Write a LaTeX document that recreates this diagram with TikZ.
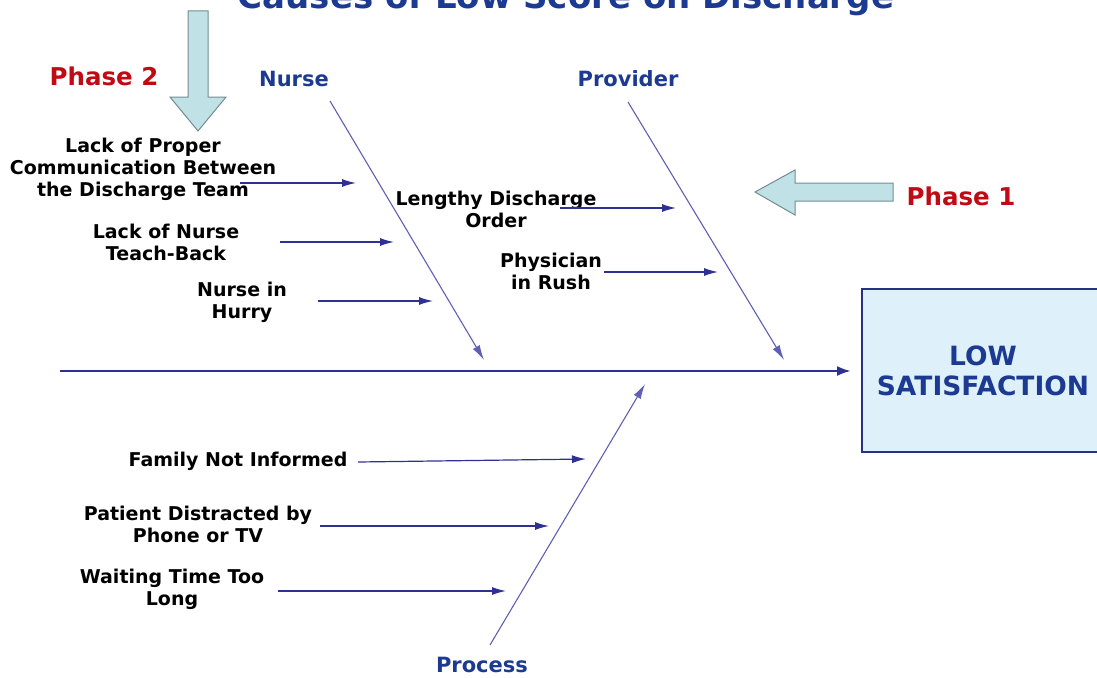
\documentclass[tikz,border=0pt]{standalone}
\usepackage{fontspec}
\setmainfont{DejaVu Sans}
\usetikzlibrary{arrows.meta}
\definecolor{lineblue}{RGB}{46,49,146}
\definecolor{boneblue}{RGB}{95,95,180}
\definecolor{catblue}{RGB}{28,58,145}
\definecolor{phasered}{RGB}{192,10,20}
\definecolor{arrowfill}{RGB}{192,226,230}
\definecolor{arrowedge}{RGB}{115,140,145}
\definecolor{boxfill}{RGB}{222,240,250}
\definecolor{boxedge}{RGB}{40,50,130}
\tikzset{
  causetext/.style={align=center, font=\fontsize{19}{22}\selectfont\bfseries, text=black, inner sep=0pt},
  cattext/.style={font=\fontsize{21}{24}\selectfont\bfseries, text=catblue, inner sep=0pt},
  phasetext/.style={font=\fontsize{24.5}{28}\selectfont\bfseries, text=phasered, inner sep=0pt},
  causearrow/.style={draw=lineblue, line width=1.2pt, -{Latex[length=14pt,width=8pt]}},
  bonearrow/.style={draw=boneblue, line width=1.1pt, -{Latex[length=15pt,width=8pt]}},
  spine/.style={draw=lineblue, line width=2.4pt, -{Latex[length=14pt,width=10pt]}},
  phasearrow/.style={draw=arrowedge, fill=arrowfill, line width=1pt, line join=miter},
}
\begin{document}
\begin{tikzpicture}[x=1pt,y=-1pt]
\useasboundingbox (0,0) rectangle (1097,677);
% title (clipped at top, as in the reference)
\node[anchor=base, font=\fontsize{34}{40}\selectfont\bfseries, text=catblue, inner sep=0pt] (title) at (566,9) {Causes of Low Score on Discharge};

% phase arrows
\draw[phasearrow] (188,11) -- (208,11) -- (208,97) -- (226,97) -- (198,131) -- (170,97) -- (188,97) -- cycle;
\draw[phasearrow] (893,183) -- (795,183) -- (795,170) -- (755,192) -- (795,215) -- (795,201) -- (893,201) -- cycle;
\node[phasetext] (ph2) at (104,76) {Phase 2};
\node[phasetext] (ph1) at (961,196) {Phase 1};

% categories
\node[cattext] (nurse) at (294,79) {Nurse};
\node[cattext] (provider) at (628,79) {Provider};
\node[cattext] (process) at (482,665) {Process};

% effect box
\draw[draw=boxedge, fill=boxfill, line width=1.3pt] (862,289) rectangle (1112,452);
\node[align=center, font=\fontsize{26.5}{30}\selectfont\bfseries, text=catblue, inner sep=0pt] (effect) at (983,371) {LOW\\SATISFACTION};

% spine and bones
\coordinate (spineS) at (60,371);
\coordinate (spineE) at (851,371);
\draw[spine] (spineS) -- (spineE);
\coordinate (nurseS) at (330,101);
\coordinate (nurseE) at (484,360);
\draw[bonearrow] (nurseS) -- (nurseE);
\coordinate (provS) at (628,102);
\coordinate (provE) at (784,360);
\draw[bonearrow] (provS) -- (provE);
\coordinate (procS) at (490,645);
\coordinate (procE) at (645,384);
\draw[bonearrow] (procS) -- (procE);

% causes
\node[causetext] (c1) at (143,169) {Lack of Proper\\Communication Between\\the Discharge Team};
\coordinate (c1s) at (240,183); \coordinate (c1e) at (356,183);
\draw[causearrow] (c1s) -- (c1e);

\node[causetext] (c2) at (166,242) {Lack of Nurse\\Teach-Back};
\coordinate (c2s) at (280,242); \coordinate (c2e) at (394,242);
\draw[causearrow] (c2s) -- (c2e);

\node[causetext] (c3) at (242,302) {Nurse in\\Hurry};
\coordinate (c3s) at (318,301); \coordinate (c3e) at (433,301);
\draw[causearrow] (c3s) -- (c3e);

\node[causetext] (c4) at (496,209) {Lengthy Discharge\\Order};
\coordinate (c4s) at (560,208); \coordinate (c4e) at (676,208);
\draw[causearrow] (c4s) -- (c4e);

\node[causetext] (c5) at (551,271) {Physician\\in Rush};
\coordinate (c5s) at (604,272); \coordinate (c5e) at (718,272);
\draw[causearrow] (c5s) -- (c5e);

\node[causetext] (c6) at (238,461) {Family Not Informed};
\coordinate (c6s) at (358,462); \coordinate (c6e) at (586,459);
\draw[causearrow] (c6s) -- (c6e);

\node[causetext] (c7) at (198,524) {Patient Distracted by\\Phone or TV};
\coordinate (c7s) at (320,526); \coordinate (c7e) at (549,526);
\draw[causearrow] (c7s) -- (c7e);

\node[causetext] (c8) at (172,589) {Waiting Time Too\\Long};
\coordinate (c8s) at (278,591); \coordinate (c8e) at (506,591);
\draw[causearrow] (c8s) -- (c8e);
\end{tikzpicture}
\end{document}
